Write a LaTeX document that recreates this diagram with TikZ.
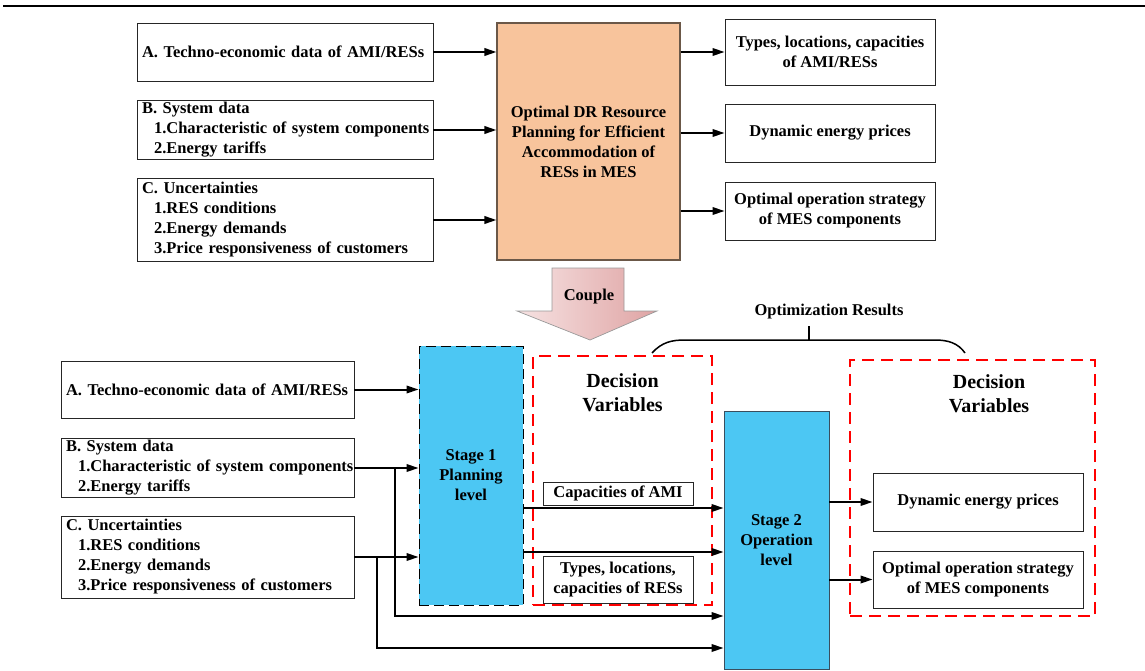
\documentclass[tikz,border=0pt]{standalone}
\usepackage{fontspec}
\setmainfont{Liberation Serif}
\usetikzlibrary{arrows.meta}
\definecolor{peach}{HTML}{F8C49C}
\definecolor{peachline}{HTML}{6B5848}
\definecolor{skyfill}{HTML}{4CC7F3}
\definecolor{skyline}{HTML}{3A4E5E}
\definecolor{couplel}{HTML}{F6E2E2}
\definecolor{coupler}{HTML}{DFA4A4}
\begin{document}
\begin{tikzpicture}[x=1pt,y=-1pt,
  font=\fontsize{16.5}{20}\selectfont\bfseries,
  box/.style={draw=black!85, line width=0.9pt, inner sep=0pt, align=center},
  inbox/.style={draw=black!85, line width=0.9pt, inner ysep=0pt, inner xsep=5pt, align=left,
                execute at begin node={\hfuzz=30pt}},
  stagebox/.style={fill=skyfill, inner sep=0pt, align=center},
  reddash/.style={draw=red, line width=2pt, dash pattern=on 12pt off 7pt, inner sep=0pt},
  dvtext/.style={font=\fontsize{20}{24}\selectfont\bfseries, align=center},
  arr/.style={line width=2pt, -{Triangle[length=12pt,width=7.5pt]}}
]
\useasboundingbox (0,0) rectangle (1145,671);

% rule across the top
\draw[line width=2.6pt] (3,6) -- (1145,6);

% ---------- upper part: single-level model ----------
\node[inbox, text width=286pt, minimum height=58pt] (A) at (285,52)
  {A. Techno-economic data of AMI/RESs};
\node[inbox, text width=286pt, minimum height=59pt] (B) at (285,130)
  {B. System data\\\hspace*{12pt}\mbox{1.Characteristic of system components}\\\hspace*{12pt}2.Energy tariffs};
\node[inbox, text width=286pt, minimum height=83pt] (C) at (285,220)
  {C. Uncertainties\\\hspace*{12pt}1.RES conditions\\\hspace*{12pt}2.Energy demands\\\hspace*{12pt}\mbox{3.Price responsiveness of customers}};

\node[box, fill=peach, draw=peachline, line width=1.1pt,
      minimum width=183pt, minimum height=237pt] (P) at (588.5,141.5)
  {Optimal DR Resource\\Planning for Efficient\\Accommodation of\\RESs in MES};

\node[box, minimum width=210pt, minimum height=66pt] (T1) at (830,52)
  {Types, locations, capacities\\of AMI/RESs};
\node[box, minimum width=210pt, minimum height=58pt] (T2) at (830,133)
  {Dynamic energy prices};
\node[box, minimum width=210pt, minimum height=58pt] (T3) at (830,211)
  {Optimal operation strategy\\of MES components};

\draw[arr] (A.east) -- (A.east -| P.west);
\draw[arr] (B.east) -- (B.east -| P.west);
\draw[arr] (C.east) -- (C.east -| P.west);
\draw[arr] (T1.west -| P.east) -- (T1.west);
\draw[arr] (T2.west -| P.east) -- (T2.west);
\draw[arr] (T3.west -| P.east) -- (T3.west);

% ---------- coupling arrow ----------
\draw[draw=gray!80, line width=0.7pt, left color=couplel, right color=coupler]
  (552,268) -- (624,268) -- (624,311) -- (657,311) -- (590,340)
  -- (517,311) -- (552,311) -- cycle;
\node (cpl) at (589,297) {Couple};

% ---------- optimization results brace ----------
\node (optres) at (829,312) {Optimization Results};
\draw[line width=1.5pt]
  (652,353) .. controls (662,342) and (672,340) .. (685,340) -- (935,340)
  .. controls (948,340) and (958,343) .. (965,353);
\draw[line width=1.5pt] (809,340) -- (809,326);

% ---------- lower part: bi-level model ----------
\node[inbox, text width=283pt, minimum height=57pt] (A2) at (207.5,389.5)
  {A. Techno-economic data of AMI/RESs};
\node[inbox, text width=283pt, minimum height=59pt] (B2) at (207.5,468)
  {B. System data\\\hspace*{12pt}\mbox{1.Characteristic of system components}\\\hspace*{12pt}2.Energy tariffs};
\node[inbox, text width=283pt, minimum height=82pt] (C2) at (207.5,557)
  {C. Uncertainties\\\hspace*{12pt}1.RES conditions\\\hspace*{12pt}2.Energy demands\\\hspace*{12pt}\mbox{3.Price responsiveness of customers}};

% decision-variable frames
\node[reddash, minimum width=179pt, minimum height=249pt] (dv1) at (622.5,480.5) {};
\node[reddash, minimum width=245pt, minimum height=256pt] (dv2) at (972.5,488) {};
\node[dvtext] (dv1t) at (622.5,393) {Decision\\Variables};
\node[dvtext] (dv2t) at (989,393.5) {Decision\\Variables};

\node[stagebox, draw=black, line width=0.9pt, dash pattern=on 10pt off 5pt,
      minimum width=104pt, minimum height=259pt] (S1) at (471,475.5)
  {Stage 1\\Planning\\level};
\node[stagebox, draw=skyline, line width=0.9pt,
      minimum width=105pt, minimum height=258pt] (S2) at (776.5,540)
  {Stage 2\\Operation\\level};

\node[box, minimum width=150pt, minimum height=23pt] (CA) at (618,493.5)
  {Capacities of AMI};
\node[box, minimum width=150pt, minimum height=47pt] (TL) at (618,579.5)
  {Types, locations,\\capacities of RESs};

\node[box, minimum width=210pt, minimum height=58pt] (D2) at (978,502)
  {Dynamic energy prices};
\node[box, minimum width=210pt, minimum height=57pt] (O2) at (978,579.5)
  {Optimal operation strategy\\of MES components};

% inputs to stage 1
\draw[arr] (A2.east) -- (A2.east -| S1.west);
\draw[arr] (B2.east) -- (B2.east -| S1.west);
\draw[arr] (C2.east) -- (C2.east -| S1.west);

% inputs passed on to stage 2
\coordinate (jB) at (395,468);
\coordinate (jC) at (377,557);
\coordinate (yB) at (0,616);
\coordinate (yC) at (0,648);
\draw[arr] (jB) |- (yB -| S2.west);
\draw[arr] (jC) |- (yC -| S2.west);

% planning decisions to stage 2
\coordinate (y1) at (0,508);
\coordinate (y2) at (0,552);
\draw[arr] (y1 -| S1.east) -- (y1 -| S2.west);
\draw[arr] (y2 -| S1.east) -- (y2 -| S2.west);

% stage 2 outputs
\draw[arr] (D2.west -| S2.east) -- (D2.west);
\draw[arr] (O2.west -| S2.east) -- (O2.west);
\end{tikzpicture}
\end{document}
